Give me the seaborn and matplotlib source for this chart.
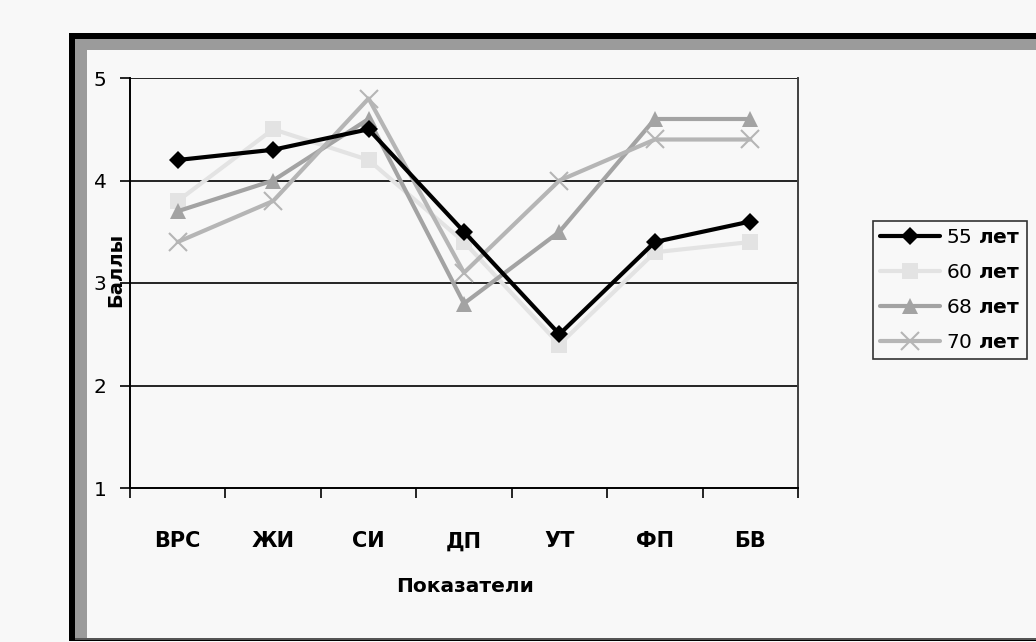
import matplotlib
matplotlib.use("Agg")
import matplotlib.pyplot as plt
import seaborn as sns
import pandas as pd
from matplotlib.patches import Rectangle
from matplotlib.lines import Line2D

categories = ["ВРС", "ЖИ", "СИ", "ДП", "УТ", "ФП", "БВ"]
series_names = ["55 лет", "60 лет", "68 лет", "70 лет"]
s55 = [4.2, 4.3, 4.5, 3.5, 2.5, 3.4, 3.6]
s60 = [3.8, 4.5, 4.2, 3.4, 2.4, 3.3, 3.4]
s68 = [3.7, 4.0, 4.6, 2.8, 3.5, 4.6, 4.6]
s70 = [3.4, 3.8, 4.8, 3.1, 4.0, 4.4, 4.4]
y_ticks = [1, 2, 3, 4, 5]

colors = ["#000000", "#e3e3e3", "#a3a3a3", "#b5b5b5"]
markers = ["D", "s", "^", "x"]
msizes = [9, 11, 12, 13]

rows = []
for name, vals in zip(series_names, [s55, s60, s68, s70]):
    for i, (c, v) in enumerate(zip(categories, vals)):
        rows.append({"cat": c, "x": i, "val": v, "series": name})
df = pd.DataFrame(rows)

sns.set_theme(style="white")
plt.rcParams['font.family'] = ['DejaVu Sans']
plt.rcParams['text.color'] = 'black'
plt.rcParams['xtick.color'] = 'black'
plt.rcParams['ytick.color'] = 'black'
plt.rcParams['axes.labelcolor'] = 'black'

W, H = 1036, 642
fig = plt.figure(figsize=(W / 100, H / 100), dpi=100)
fig.patch.set_facecolor("#f8f8f8")

def fr(x0, y0, x1, y1, color, z=0):
    fig.patches.append(Rectangle((x0 / W, 1 - y1 / H), (x1 - x0) / W, (y1 - y0) / H,
                                 transform=fig.transFigure, facecolor=color,
                                 edgecolor="none", zorder=z))
fr(69, 33, W, 641, "#000000", 0)
fr(75, 39, W, 638, "#9b9b9b", 1)
fr(87, 50, W, 638, "#f8f8f8", 2)
fr(75, 638, W, 640, "#555555", 2)

ax = fig.add_axes([130 / W, 1 - 488 / H, (798 - 130) / W, (488 - 78) / H])
ax.set_facecolor("#f8f8f8")
ax.set_zorder(5)

for name, col, mk, ms in zip(series_names, colors, markers, msizes):
    sub = df[df.series == name]
    sns.lineplot(data=sub, x="x", y="val", ax=ax, color=col, linewidth=3,
                 marker=mk, markersize=ms, markeredgecolor=col,
                 markeredgewidth=1.5 if mk == "x" else 0, legend=False,
                 zorder=3 if name == "55 лет" else 2)

ax.set_xlim(-0.5, len(categories) - 0.5)
ax.set_ylim(1, 5)
ax.set_yticks(y_ticks)
ax.set_yticklabels([str(t) for t in y_ticks], fontsize=14.5, color="black")
for t in y_ticks[1:]:
    ax.axhline(t, color="black", linewidth=1.2, zorder=1)
ax.set_xticks([i - 0.5 for i in range(len(categories) + 1)])
ax.set_xticklabels([])
ax.tick_params(axis="x", direction="out", length=7, width=1.2, color="black", bottom=True)
ax.tick_params(axis="y", direction="out", length=7, width=1.2, color="black", left=True, pad=10)
for i, c in enumerate(categories):
    ax.text(i, -0.13, c, transform=ax.get_xaxis_transform(), ha="center", va="center",
            fontsize=15, fontweight="bold", family="DejaVu Sans", color="black")
ax.set_xlabel("")
ax.set_ylabel("")
for side in ["left", "bottom"]:
    ax.spines[side].set_color("black")
    ax.spines[side].set_linewidth(1.4)
ax.spines["right"].set_color("#404040")
ax.spines["right"].set_linewidth(1.4)
ax.spines["top"].set_visible(False)

fig.text(465 / W, 1 - 586 / H, "Показатели", ha="center", va="center",
         fontsize=14.5, fontweight="bold", color="black")
fig.text(116 / W, 1 - 270 / H, "Баллы", ha="center", va="center", rotation=90,
         fontsize=14, fontweight="bold", zorder=10, color="black")

handles = [Line2D([0], [0], color=c, lw=3, marker=m, markersize=s,
                  markeredgecolor=c, markeredgewidth=1.5 if m == "x" else 0)
           for c, m, s in zip(colors, markers, msizes)]
labels = [n.split()[0] + r" $\mathbf{лет}$" for n in series_names]
leg = fig.legend(handles, labels, loc="upper left",
                 bbox_to_anchor=(873 / W, 1 - 221 / H), frameon=True,
                 fontsize=14.5, handlelength=3.0, handletextpad=0.25,
                 labelspacing=0.8, borderpad=0.35, borderaxespad=0, fancybox=False)
leg.get_frame().set_edgecolor("black")
leg.get_frame().set_linewidth(1.2)
leg.get_frame().set_facecolor("#f8f8f8")
leg.set_zorder(20)
for t in leg.get_texts():
    t.set_color("black")

fig.savefig("out.png", dpi=100, facecolor=fig.get_facecolor())
